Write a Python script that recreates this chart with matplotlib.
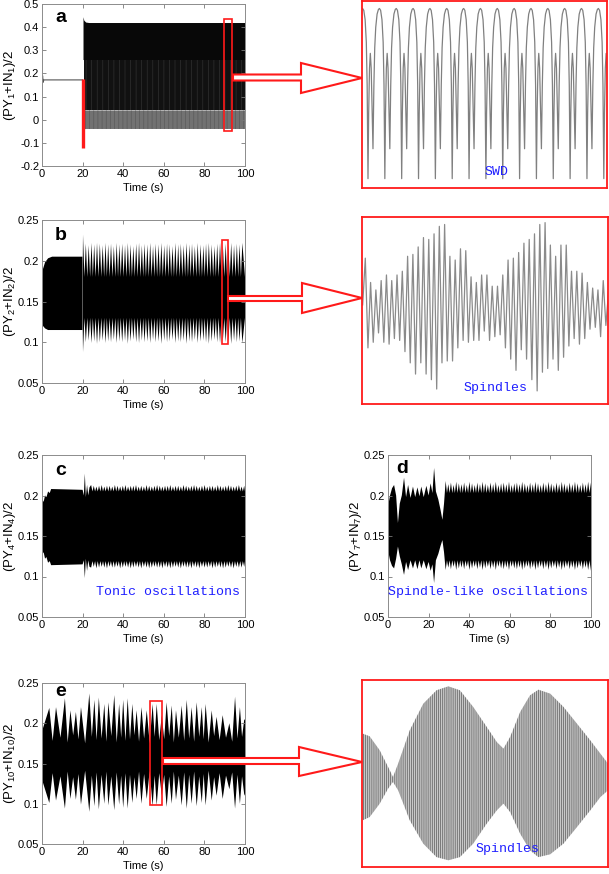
import numpy as np
import matplotlib.pyplot as plt
from matplotlib.patches import Polygon, Rectangle
from matplotlib.ticker import FuncFormatter

plt.rcParams['font.family'] = ['Liberation Sans', 'DejaVu Sans']
plt.rcParams['mathtext.fontset'] = 'custom'
plt.rcParams['mathtext.rm'] = 'Liberation Sans'
plt.rcParams['mathtext.it'] = 'Liberation Sans:italic'
plt.rcParams['hatch.linewidth'] = 0.5

# ---------------- data ----------------
x_ticks = [0, 20, 40, 60, 80, 100]

# a: (PY1+IN1)/2 -- flat until 20 s, then SWD
a_flat_t = [0, 0.3, 0.6, 0.9, 20.0]
a_flat_y = [0.172, 0.19, 0.162, 0.172, 0.172]
a_osc_t = [20.2, 20.6, 21.5, 23.0, 100]
a_osc_hi = [0.445, 0.43, 0.422, 0.42, 0.42]
a_osc_lo = [-0.045, -0.042, -0.04, -0.04, -0.04]
a_trough_top = 0.04          # dense part ends here, thin troughs below
a_streak_top = 0.26          # streaky (less dense) part below this level
a_kick = (20.0, -0.122, 0.176)
a_window = (89.7, -0.049, 3.9, 0.484)

# b: (PY2+IN2)/2
b_pre_t = [0, 0.5, 1.5, 3.0, 5.0, 19.9]
b_pre_hi = [0.178, 0.19, 0.198, 0.203, 0.205, 0.205]
b_pre_lo = [0.127, 0.12, 0.117, 0.115, 0.115, 0.115]
b_t = [20.2,
       21.6, 23.0, 24.4, 25.7, 27.1, 28.5, 29.9, 31.3, 32.6, 34.0,
       35.4, 36.8, 38.1, 39.5, 40.9, 42.3, 43.6, 45.0, 46.4, 47.8,
       49.2, 50.5, 51.9, 53.3, 54.7, 56.0, 57.4, 58.8, 60.2, 61.6,
       62.9, 64.3, 65.7, 67.1, 68.4, 69.8, 71.2, 72.6, 73.9, 75.3,
       76.7, 78.1, 79.5, 80.8, 82.2, 83.6, 85.0, 86.3, 87.7, 89.1,
       90.5, 91.8, 93.2, 94.6, 96.0, 97.3, 98.7]
b_hi_pk = [0.232,
           0.221, 0.219, 0.222, 0.220, 0.222, 0.221, 0.219, 0.222, 0.220, 0.221,
           0.218, 0.222, 0.220, 0.221, 0.219, 0.222, 0.220, 0.218, 0.221, 0.222,
           0.219, 0.221, 0.220, 0.222, 0.218, 0.221, 0.220, 0.222, 0.219, 0.221,
           0.220, 0.218, 0.222, 0.220, 0.221, 0.219, 0.222, 0.220, 0.221, 0.218,
           0.222, 0.220, 0.219, 0.221, 0.222, 0.220, 0.218, 0.221, 0.222, 0.219,
           0.221, 0.220, 0.222, 0.219, 0.221, 0.220, 0.222]
b_lo_pk = [0.088,
           0.100, 0.102, 0.099, 0.101, 0.098, 0.100, 0.102, 0.099, 0.101, 0.100,
           0.103, 0.099, 0.101, 0.100, 0.102, 0.098, 0.101, 0.103, 0.100, 0.099,
           0.102, 0.100, 0.101, 0.099, 0.103, 0.100, 0.101, 0.098, 0.102, 0.100,
           0.101, 0.103, 0.099, 0.101, 0.100, 0.102, 0.098, 0.101, 0.100, 0.103,
           0.099, 0.101, 0.102, 0.100, 0.098, 0.101, 0.103, 0.100, 0.099, 0.102,
           0.100, 0.101, 0.098, 0.102, 0.100, 0.101, 0.099]
b_hi_valley, b_lo_valley = 0.18, 0.13
b_window = (88.8, 0.098, 3.0, 0.1275)

# c: (PY4+IN4)/2
c_pre_t = [0, 0.3, 0.8, 1.5, 2.2, 3.0, 3.8, 4.5, 20.0, 20.6, 21.1, 21.6, 22.2, 22.8, 23.4]
c_pre_hi = [0.19, 0.195, 0.192, 0.2, 0.198, 0.205, 0.203, 0.208, 0.207, 0.2, 0.227, 0.198, 0.213, 0.2, 0.21]
c_pre_lo = [0.135, 0.128, 0.13, 0.122, 0.124, 0.117, 0.119, 0.114, 0.115, 0.12, 0.098, 0.122, 0.107, 0.12, 0.112]
c_t = [24.2, 25.5, 26.8, 28.1, 29.4, 30.7, 32.0, 33.3, 34.6, 35.9,
       37.2, 38.5, 39.8, 41.1, 42.4, 43.7, 45.0, 46.3, 47.6, 48.9,
       50.2, 51.5, 52.8, 54.1, 55.4, 56.7, 58.0, 59.3, 60.6, 61.9,
       63.2, 64.5, 65.8, 67.1, 68.4, 69.7, 71.0, 72.3, 73.6, 74.9,
       76.2, 77.5, 78.8, 80.1, 81.4, 82.7, 84.0, 85.3, 86.6, 87.9,
       89.2, 90.5, 91.8, 93.1, 94.4, 95.7, 97.0, 98.3, 99.6]
c_hi_pk = [0.213, 0.212, 0.211, 0.212, 0.213, 0.211, 0.212, 0.212, 0.211, 0.213,
           0.212, 0.211, 0.212, 0.213, 0.211, 0.212, 0.212, 0.213, 0.211, 0.212,
           0.211, 0.213, 0.212, 0.211, 0.212, 0.213, 0.212, 0.211, 0.212, 0.212,
           0.213, 0.211, 0.212, 0.212, 0.211, 0.213, 0.212, 0.211, 0.212, 0.213,
           0.212, 0.211, 0.212, 0.213, 0.211, 0.212, 0.212, 0.211, 0.213, 0.212,
           0.211, 0.212, 0.213, 0.212, 0.211, 0.212, 0.213, 0.211, 0.212]
c_lo_pk = [0.111, 0.112, 0.110, 0.111, 0.112, 0.111, 0.110, 0.112, 0.111, 0.111,
           0.112, 0.110, 0.111, 0.112, 0.111, 0.110, 0.111, 0.112, 0.111, 0.110,
           0.112, 0.111, 0.110, 0.111, 0.112, 0.111, 0.111, 0.110, 0.112, 0.111,
           0.110, 0.111, 0.112, 0.111, 0.110, 0.112, 0.111, 0.111, 0.110, 0.112,
           0.111, 0.110, 0.112, 0.111, 0.111, 0.112, 0.110, 0.111, 0.112, 0.111,
           0.110, 0.111, 0.112, 0.111, 0.110, 0.112, 0.111, 0.111, 0.112]
c_hi_valley, c_lo_valley = 0.205, 0.119

# d: (PY7+IN7)/2
d_pre_t = [0, 1, 2, 3, 4, 4.9, 5.8, 6.8, 7.9, 8.9, 9.9, 11.1, 12.3, 13.4, 14.5,
           15.5, 16.4, 17.6, 18.9, 20, 21, 21.9, 22.7, 23.6, 24.8, 25.9, 26.8, 27.6]
d_pre_hi = [0.186, 0.2, 0.209, 0.213, 0.2, 0.166, 0.19, 0.2, 0.222, 0.198, 0.213, 0.197, 0.211, 0.198,
            0.21, 0.199, 0.211, 0.198, 0.212, 0.2, 0.215, 0.203, 0.234, 0.205, 0.195, 0.182, 0.17, 0.19]
d_pre_lo = [0.133, 0.12, 0.113, 0.11, 0.122, 0.137, 0.125, 0.115, 0.102, 0.118, 0.108, 0.12, 0.11, 0.12,
            0.109, 0.12, 0.11, 0.12, 0.109, 0.118, 0.107, 0.115, 0.092, 0.12, 0.128, 0.138, 0.145, 0.13]
d_t = [28.4, 29.7, 31.0, 32.3, 33.6, 34.9, 36.2, 37.5, 38.8, 40.1,
       41.4, 42.7, 44.0, 45.3, 46.6, 47.9, 49.2, 50.5, 51.8, 53.1,
       54.4, 55.7, 57.0, 58.3, 59.6, 60.9, 62.2, 63.5, 64.8, 66.1,
       67.4, 68.7, 70.0, 71.3, 72.6, 73.9, 75.2, 76.5, 77.8, 79.1,
       80.4, 81.7, 83.0, 84.3, 85.6, 86.9, 88.2, 89.5, 90.8, 92.1,
       93.4, 94.7, 96.0, 97.3, 98.6, 99.9]
d_hi_pk = [0.218, 0.214, 0.216, 0.213, 0.217, 0.215, 0.214, 0.216, 0.213, 0.217,
           0.215, 0.213, 0.216, 0.214, 0.217, 0.215, 0.213, 0.216, 0.214, 0.217,
           0.213, 0.215, 0.216, 0.214, 0.217, 0.213, 0.215, 0.216, 0.214, 0.217,
           0.215, 0.213, 0.216, 0.214, 0.217, 0.215, 0.213, 0.216, 0.214, 0.217,
           0.215, 0.213, 0.216, 0.214, 0.217, 0.215, 0.213, 0.216, 0.214, 0.217,
           0.215, 0.213, 0.216, 0.214, 0.217, 0.216]
d_lo_pk = [0.108, 0.111, 0.109, 0.112, 0.108, 0.110, 0.111, 0.109, 0.112, 0.108,
           0.110, 0.112, 0.109, 0.111, 0.108, 0.110, 0.112, 0.109, 0.111, 0.108,
           0.112, 0.110, 0.109, 0.111, 0.108, 0.112, 0.110, 0.109, 0.111, 0.108,
           0.110, 0.112, 0.109, 0.111, 0.108, 0.110, 0.112, 0.109, 0.111, 0.108,
           0.110, 0.112, 0.109, 0.111, 0.108, 0.110, 0.112, 0.109, 0.111, 0.108,
           0.110, 0.112, 0.109, 0.111, 0.108, 0.107]
d_hi_valley, d_lo_valley = 0.203, 0.12

# e: (PY10+IN10)/2 -- spindle lobes
e_t = [3.6, 6.9, 11.3, 14.0, 16.7, 19.2, 23.3, 25.8, 28.0, 30.7, 32.7, 35.6, 38.0,
       40.0, 42.2, 44.5, 46.6, 49.0, 51.6, 54.5, 56.5, 59.0, 61.4, 63.9, 66.0,
       68.8, 71.3, 73.7, 76.2, 78.7, 80.6, 83.6, 86.0, 89.0, 92.3, 95.1, 97.5, 99.6]
e_hi_pk = [0.219, 0.220, 0.231, 0.216, 0.214, 0.220, 0.237, 0.229, 0.232, 0.224, 0.226, 0.235, 0.224,
           0.229, 0.231, 0.224, 0.216, 0.220, 0.216, 0.224, 0.224, 0.210, 0.226, 0.222, 0.216,
           0.222, 0.229, 0.220, 0.226, 0.220, 0.224, 0.216, 0.208, 0.210, 0.200, 0.233, 0.220, 0.204]
e_lo_pk = [0.101, 0.104, 0.094, 0.106, 0.105, 0.099, 0.090, 0.097, 0.093, 0.100, 0.098, 0.092, 0.099,
           0.095, 0.094, 0.101, 0.106, 0.100, 0.106, 0.097, 0.098, 0.110, 0.096, 0.100, 0.105,
           0.098, 0.094, 0.100, 0.097, 0.101, 0.098, 0.104, 0.110, 0.106, 0.118, 0.094, 0.100, 0.112]
e_pinch_hi = [0.178, 0.182, 0.176, 0.185, 0.18, 0.175, 0.183, 0.179, 0.181, 0.177, 0.184, 0.176, 0.182,
              0.178, 0.18, 0.185, 0.177, 0.181, 0.175, 0.183, 0.179, 0.18, 0.184, 0.176, 0.182,
              0.178, 0.181, 0.177, 0.183, 0.18, 0.176, 0.184, 0.179, 0.182, 0.177, 0.181, 0.183]
e_pinch_lo = [0.138, 0.134, 0.14, 0.133, 0.137, 0.141, 0.135, 0.139, 0.136, 0.14, 0.134, 0.139, 0.135,
              0.138, 0.136, 0.133, 0.14, 0.137, 0.141, 0.135, 0.138, 0.136, 0.134, 0.14, 0.135,
              0.139, 0.136, 0.14, 0.134, 0.137, 0.141, 0.133, 0.138, 0.135, 0.139, 0.136, 0.134]
e_start = (0.19, 0.13)
e_end = (0.205, 0.11)
e_window = (53.2, 0.098, 6.1, 0.13)

# zoom of a: one SWD cycle (phase 0..1 -> level 0..1), repeated
swd_phase = [0, .04, .09, .138, .19, .25, .296, .35, .40, .46, .54, .62, .68, .75,
             .83, .90, .95, .98, 1.0]
swd_level = [.05, .40, .64, .72, .64, .40, .21, .55, .75, .86, .93, .955, .96, .95,
             .90, .78, .55, .28, .05]
swd_cycles = list(range(-1, 15))

# zoom of b: successive extrema (trough/peak), normalised
spin_b = [0.53, 0.78, 0.30, 0.65, 0.33, 0.61, 0.38, 0.66, 0.33, 0.69, 0.32, 0.66, 0.35,
          0.69, 0.34, 0.71, 0.28, 0.79, 0.22, 0.80, 0.16, 0.84, 0.22, 0.89, 0.16, 0.88, 0.13,
          0.91, 0.08, 0.95, 0.22, 0.96, 0.23, 0.79, 0.23, 0.77, 0.30, 0.83, 0.34, 0.82, 0.33,
          0.68, 0.34, 0.65, 0.34, 0.69, 0.39, 0.69, 0.34, 0.63, 0.36, 0.63, 0.37, 0.69, 0.30,
          0.77, 0.24, 0.78, 0.18, 0.81, 0.29, 0.86, 0.24, 0.88, 0.13, 0.91, 0.07, 0.96, 0.17,
          0.97, 0.19, 0.85, 0.24, 0.79, 0.18, 0.85, 0.25, 0.85, 0.31, 0.71, 0.35, 0.71, 0.32,
          0.70, 0.35, 0.65, 0.40, 0.62, 0.41, 0.61, 0.36, 0.66, 0.42, 0.60]

# zoom of e: envelope of the spindle (position 0..1, level 0..1)
spin_e_x = [0.003, 0.031, 0.072, 0.106, 0.126, 0.147, 0.194, 0.249, 0.303, 0.351, 0.398, 0.452,
            0.507, 0.548, 0.575, 0.602, 0.643, 0.683, 0.717, 0.765, 0.819, 0.874, 0.928, 0.969, 1.0]
spin_e_hi = [0.713, 0.699, 0.624, 0.535, 0.481, 0.553, 0.731, 0.873, 0.945, 0.966, 0.945, 0.856,
             0.749, 0.668, 0.633, 0.695, 0.829, 0.918, 0.948, 0.927, 0.856, 0.766, 0.677, 0.606, 0.553]
spin_e_lo = [0.25, 0.267, 0.339, 0.419, 0.455, 0.41, 0.25, 0.125, 0.053, 0.036, 0.053, 0.125,
             0.232, 0.303, 0.339, 0.294, 0.178, 0.089, 0.053, 0.068, 0.125, 0.214, 0.303, 0.374, 0.41]

# ---------------- figure ----------------
W, H = 609, 874
fig = plt.figure(figsize=(W / 100, H / 100), dpi=100)
RED = '#ff1a1a'
BLUE = '#1f1fff'


def px_axes(l, t, r, b):
    return fig.add_axes([l / W, 1 - b / H, (r - l) / W, (b - t) / H])


def px_text(x, y, s, **kw):
    fig.text(x / W, 1 - y / H, s, ha='center', va='center', **kw)


fmt = FuncFormatter(lambda v, p: '%g' % round(v, 3))


def style(ax, ylim, yticks, ylabel):
    ax.set_xlim(0, 100)
    ax.set_ylim(*ylim)
    ax.set_xticks(x_ticks)
    ax.set_yticks(yticks)
    ax.xaxis.set_major_formatter(fmt)
    ax.yaxis.set_major_formatter(fmt)
    ax.tick_params(direction='in', top=True, right=True, length=3, width=0.6,
                   color='#777777', labelsize=8, pad=2)
    for s in ax.spines.values():
        s.set_color('#8c8c8c')
        s.set_linewidth(0.7)
    ax.set_xlabel('Time (s)', fontsize=8)
    ax.set_ylabel(ylabel, fontsize=9.5)
    ax.xaxis.set_label_coords(0.5, -0.105)
    ax.yaxis.set_label_coords(-0.118, 0.5)


def zigzag(times, peaks, valleys):
    tt, yy = [], []
    for i in range(len(times)):
        if i > 0:
            v = valleys[i - 1] if np.ndim(valleys) else valleys
            tt.append((times[i - 1] + times[i]) / 2)
            yy.append(v)
        tt.append(times[i])
        yy.append(peaks[i])
    return tt, yy


def band(ax, t_hi, y_hi, t_lo, y_lo, color='k'):
    ax.fill(list(t_hi) + list(t_lo)[::-1], list(y_hi) + list(y_lo)[::-1],
            color=color, lw=0)


def window(ax, rect):
    ax.add_patch(Rectangle(rect[:2], rect[2], rect[3], fill=False, ec=RED, lw=1.2,
                           zorder=4, clip_on=False))


def arrow(x0, y0, y1, xb, h0, h1, tip_x, tip_y):
    pts = [(x0, y0), (xb, y0), (xb, h0), (tip_x, tip_y), (xb, h1), (xb, y1), (x0, y1)]
    pts = [(x / W, 1 - y / H) for x, y in pts]
    fig.add_artist(Polygon(pts, closed=True, transform=fig.transFigure,
                           fc='white', ec=RED, lw=1.5, zorder=5))


def zoom_box(l, t, r, b):
    ax = px_axes(l, t, r, b)
    ax.set_xticks([])
    ax.set_yticks([])
    for s in ax.spines.values():
        s.set_color(RED)
        s.set_linewidth(1.3)
    return ax


mono = dict(family=['Liberation Mono', 'DejaVu Sans Mono'], fontsize=9.5, color=BLUE)

# ---- panel a ----
ax = px_axes(42, 4, 245, 166)
ax.plot(a_flat_t, a_flat_y, color='#555555', lw=0.8)
ax.fill_between(a_osc_t, a_streak_top, a_osc_hi, color='#080808', lw=0)
ax.fill_between(a_osc_t[1:], a_trough_top, a_streak_top, fc='#111111', ec='#303030',
                hatch='|' * 3, lw=0)
ax.fill_between(a_osc_t[1:], a_osc_lo[1:], a_trough_top, fc='#727272', ec='#5a5a5a',
                hatch='|' * 4, lw=0)
ax.plot([a_kick[0]] * 2, a_kick[1:], color=RED, lw=2.4, solid_capstyle='butt')
window(ax, a_window)
style(ax, (-0.2, 0.5), [-0.2, -0.1, 0, 0.1, 0.2, 0.3, 0.4, 0.5], r'(PY$_1$+IN$_1$)/2')

# ---- panel b ----
ax = px_axes(42, 220, 245, 383)
band(ax, b_pre_t, b_pre_hi, b_pre_t, b_pre_lo)
th, yh = zigzag(b_t, b_hi_pk, b_hi_valley)
tl, yl = zigzag(b_t, b_lo_pk, b_lo_valley)
band(ax, [20.0] + th + [100], [b_hi_valley] + yh + [b_hi_valley],
     [20.0] + tl + [100], [b_lo_valley] + yl + [b_lo_valley])
window(ax, b_window)
style(ax, (0.05, 0.25), [0.05, 0.1, 0.15, 0.2, 0.25], r'(PY$_2$+IN$_2$)/2')

# ---- panel c ----
ax = px_axes(42, 455, 245, 617)
th, yh = zigzag(c_t, c_hi_pk, c_hi_valley)
tl, yl = zigzag(c_t, c_lo_pk, c_lo_valley)
band(ax, c_pre_t + th + [100], c_pre_hi + yh + [c_hi_valley],
     c_pre_t + tl + [100], c_pre_lo + yl + [c_lo_valley])
style(ax, (0.05, 0.25), [0.05, 0.1, 0.15, 0.2, 0.25], r'(PY$_4$+IN$_4$)/2')

# ---- panel d ----
ax = px_axes(388, 455, 591, 617)
th, yh = zigzag(d_t, d_hi_pk, d_hi_valley)
tl, yl = zigzag(d_t, d_lo_pk, d_lo_valley)
band(ax, d_pre_t + th + [100], d_pre_hi + yh + [d_hi_valley],
     d_pre_t + tl + [100], d_pre_lo + yl + [d_lo_valley])
style(ax, (0.05, 0.25), [0.05, 0.1, 0.15, 0.2, 0.25], r'(PY$_7$+IN$_7$)/2')

# ---- panel e ----
ax = px_axes(42, 683, 245, 844)
th, yh = zigzag(e_t, e_hi_pk, e_pinch_hi)
tl, yl = zigzag(e_t, e_lo_pk, e_pinch_lo)
band(ax, [0] + th + [100], [e_start[0]] + yh + [e_end[0]],
     [0] + tl + [100], [e_start[1]] + yl + [e_end[1]])
window(ax, e_window)
style(ax, (0.05, 0.25), [0.05, 0.1, 0.15, 0.2, 0.25], r'(PY$_{10}$+IN$_{10}$)/2')

# ---- zoom insets ----
zx = zoom_box(362, 1, 607, 188)
xs = np.concatenate([k + np.array(swd_phase) for k in swd_cycles])
ys = np.tile(swd_level, len(swd_cycles))
zx.plot(xs, ys, color='#808080', lw=0.9)
zx.set_xlim(-0.356, 14.19)
zx.set_ylim(0, 1)

zx = zoom_box(362, 217, 608, 404)
zx.plot(np.arange(len(spin_b)), spin_b, color='#8a8a8a', lw=0.9)
zx.set_xlim(-0.25, 92.8)
zx.set_ylim(0, 1)

zx = zoom_box(362, 680, 608, 867)
zx.fill(spin_e_x + spin_e_x[::-1], spin_e_hi + spin_e_lo[::-1], fc='#c8c8c8',
        ec='#5a5a5a', hatch='|' * 8, lw=0)
zx.set_xlim(0, 1)
zx.set_ylim(0, 1)

# ---- arrows ----
arrow(233, 74.5, 80.5, 301, 63, 93, 362, 78)
arrow(228, 296, 301, 302, 283, 313, 362, 298)
arrow(163, 758, 764, 299, 747, 776, 362, 762)

# ---- text ----
for lab, x, y in [('a', 61, 17), ('b', 61, 235), ('c', 61, 470), ('d', 402, 468), ('e', 61, 692)]:
    px_text(x, y, lab, fontsize=14, fontweight='bold')
px_text(497, 172, 'SWD', **mono)
px_text(496, 388, 'Spindles', **mono)
px_text(508, 849, 'Spindles', **mono)
px_text(168, 592, 'Tonic oscillations', **mono)
px_text(488, 592, 'Spindle-like oscillations', **mono)

fig.savefig('out.png', dpi=100, facecolor='white')
